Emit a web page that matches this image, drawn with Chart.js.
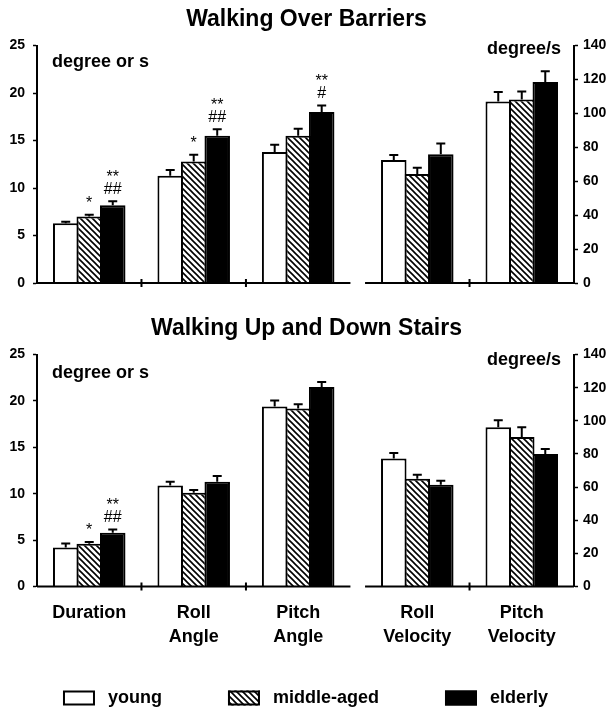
<!DOCTYPE html>
<html>
<head>
<meta charset="utf-8">
<script src="https://cdn.jsdelivr.net/npm/chart.js@4/dist/chart.umd.min.js"></script>
<style>
  html, body { margin: 0; padding: 0; background: #fff; overflow: hidden; }
  .panel { position: absolute; left: 0; width: 613px; }
</style>
</head>
<body>
<div class="panel" style="top:0;height:305px"><canvas id="barriers"></canvas></div>
<div class="panel" style="top:305px;height:406px"><canvas id="stairs"></canvas></div>
<script>
const groups = ["Duration", ["Roll", "Angle"], ["Pitch", "Angle"], ["Roll", "Velocity"], ["Pitch", "Velocity"]];
const groupPos = [1, 2, 3, 4.14, 5.14];
const groupTicks = [1.5, 2.5, 4.64];
const axisSegments = [[0.5, 3.5], [3.64, 5.64]];
const series = ["young", "middle-aged", "elderly"];

// first three values on the left axis (degree or s), last two on the right (degree/s)
const barriersYoung = [6.3, 11.3, 13.8, 72.5, 107];
const barriersMiddle = [7.0, 12.8, 15.5, 64.3, 108.2];
const barriersElderly = [8.2, 15.5, 18.0, 75.9, 118.6];
const barriersYoungErr = [0.15, 0.6, 0.75, 3, 5.6];
const barriersMiddleErr = [0.2, 0.7, 0.75, 3.7, 4.8];
const barriersElderlyErr = [0.4, 0.7, 0.7, 6.3, 6.3];
const barriersMiddleSig = ["*", "*", "", "", ""];
const barriersElderlySig = [["**", "##"], ["**", "##"], ["**", "#"], "", ""];

const stairsYoung = [4.2, 10.9, 19.4, 77.2, 96.1];
const stairsMiddle = [4.6, 10.1, 19.2, 65.1, 90.2];
const stairsElderly = [5.8, 11.3, 21.5, 61.4, 80];
const stairsYoungErr = [0.43, 0.4, 0.65, 3.4, 4.2];
const stairsMiddleErr = [0.2, 0.3, 0.45, 2.4, 5.9];
const stairsElderlyErr = [0.35, 0.6, 0.55, 2.5, 3];
const stairsMiddleSig = ["*", "", "", "", ""];
const stairsElderlySig = [["**", "##"], "", "", "", ""];

const FONT = "'Liberation Sans', Arial, sans-serif";
Chart.defaults.font.family = FONT;
Chart.defaults.color = "#000";

function hatch() {
  const c = document.createElement("canvas");
  c.width = 6; c.height = 6;
  const g = c.getContext("2d");
  g.fillStyle = "#fff"; g.fillRect(0, 0, 6, 6);
  g.strokeStyle = "#000"; g.lineWidth = 1.6;
  g.beginPath();
  g.moveTo(-1, -1); g.lineTo(7, 7);
  g.moveTo(-1, 5); g.lineTo(1, 7);
  g.moveTo(5, -1); g.lineTo(7, 1);
  g.stroke();
  return g.createPattern(c, "repeat");
}
const fills = ["#fff", hatch(), "#000"];

function buildDatasets(means, errs, sigs) {
  const out = [];
  ["yL", "yR"].forEach((axis, side) => {
    series.forEach((name, s) => {
      out.push({
        label: name,
        yAxisID: axis,
        data: groupPos.map((x, i) => ({ x, y: (i < 3) === (side === 0) ? means[s][i] : null })),
        errors: errs[s],
        marks: sigs[s],
        backgroundColor: fills[s],
        borderColor: "#000",
        borderWidth: 2,
        skipNull: true,
        categoryPercentage: 0.675,
        barPercentage: 1.085,
      });
    });
  });
  return out;
}

const decor = {
  id: "decor",
  afterDatasetsDraw(chart) {
    const ctx = chart.ctx;
    ctx.save();
    ctx.strokeStyle = "#000";
    ctx.fillStyle = "#000";
    ctx.lineWidth = 2;
    ctx.font = "16px " + FONT;
    ctx.textAlign = "center";
    ctx.textBaseline = "alphabetic";
    chart.data.datasets.forEach((ds, di) => {
      const meta = chart.getDatasetMeta(di);
      const yScale = chart.scales[ds.yAxisID];
      meta.data.forEach((bar, i) => {
        const v = ds.data[i].y;
        if (v == null) return;
        const top = yScale.getPixelForValue(v + ds.errors[i]);
        ctx.beginPath();
        ctx.moveTo(bar.x, bar.y);
        ctx.lineTo(bar.x, top);
        ctx.moveTo(bar.x - 4.5, top);
        ctx.lineTo(bar.x + 4.5, top);
        ctx.stroke();
        const lines = [].concat(ds.marks[i] || []).filter(Boolean);
        lines.slice().reverse().forEach((t, k) => {
          ctx.fillText(t, bar.x, top - 7 - k * 12);
        });
      });
    });
    ctx.restore();
  },
  afterDraw(chart, args, opts) {
    const ctx = chart.ctx;
    const x = chart.scales.x;
    const y0 = chart.scales.yL.getPixelForValue(0);
    const area = chart.chartArea;
    ctx.save();
    ctx.strokeStyle = "#000";
    ctx.lineWidth = 2;
    ctx.beginPath();
    axisSegments.forEach(([a, b]) => {
      ctx.moveTo(x.getPixelForValue(a), y0);
      ctx.lineTo(x.getPixelForValue(b), y0);
    });
    groupTicks.forEach((t) => {
      const px = x.getPixelForValue(t);
      ctx.moveTo(px, y0 - 4);
      ctx.lineTo(px, y0 + 4);
    });
    ctx.stroke();
    ctx.fillStyle = "#000";
    ctx.font = "bold 18px " + FONT;
    ctx.textBaseline = "middle";
    ctx.textAlign = "left";
    ctx.fillText("degree or s", area.left + 15, area.top + opts.unitDy + 14);
    ctx.textAlign = "right";
    ctx.fillText("degree/s", area.right - 13, area.top + opts.unitDy + 1);

    if (opts.legend) {
      // legend: box, label, gap — centred under the plot
      ctx.textAlign = "left";
      const boxW = 32, boxH = 15, textGap = 13, itemGap = 66;
      const items = series.map((name, s) => ({ name, fill: chart.data.datasets[s].backgroundColor, w: ctx.measureText(name).width }));
      const total = items.reduce((a, it) => a + boxW + textGap + it.w, 0) + itemGap * (items.length - 1);
      let lx = (area.left + area.right) / 2 - total / 2;
      const ly = chart.height - 13;
      ctx.lineWidth = 2;
      items.forEach((it) => {
        ctx.fillStyle = it.fill;
        ctx.fillRect(lx, ly - boxH / 2, boxW, boxH);
        ctx.strokeRect(lx + 1, ly - boxH / 2 + 1, boxW - 2, boxH - 2);
        ctx.fillStyle = "#000";
        ctx.fillText(it.name, lx + boxW + textGap, ly);
        lx += boxW + textGap + it.w + itemGap;
      });
    }
    ctx.restore();
  },
};

function makePanel(id, title, means, errs, sigs, bottom) {
  const axisFont = { size: 14, weight: "bold" };
  const yGrid = { drawOnChartArea: false, tickLength: 4, tickColor: "#000", tickWidth: 1.5 };
  return new Chart(document.getElementById(id), {
    type: "bar",
    data: { datasets: buildDatasets(means, errs, sigs) },
    options: {
      responsive: true,
      maintainAspectRatio: false,
      animation: false,
      layout: { padding: 0 },
      plugins: {
        title: {
          display: true,
          text: title,
          color: "#000",
          font: { size: 23, weight: "bold" },
          padding: bottom ? { top: 10, bottom: 12 } : { top: 6, bottom: 12 },
        },
        legend: { display: false },
        tooltip: { enabled: false },
        decor: { legend: bottom, unitDy: bottom ? 4 : 2 },
      },
      scales: {
        x: {
          type: "linear",
          offset: false,
          min: 0.5,
          max: 5.64,
          afterBuildTicks: (s) => { s.ticks = groupPos.map((v) => ({ value: v })); },
          afterFit: (s) => { s.height = bottom ? 124.5 : 22; },
          ticks: {
            display: bottom,
            autoSkip: false,
            maxRotation: 0,
            padding: 14,
            color: "#000",
            font: { size: 18, weight: "bold", lineHeight: 1.35 },
            callback: (v, i) => groups[i],
          },
          grid: { display: false, drawTicks: false },
          border: { display: false },
        },
        yL: {
          position: "left",
          min: 0,
          max: 25,
          afterFit: (s) => { s.width = 37; },
          ticks: { stepSize: 5, padding: 8, color: "#000", font: axisFont },
          grid: yGrid,
          border: { color: "#000", width: 2 },
        },
        yR: {
          position: "right",
          min: 0,
          max: 140,
          afterFit: (s) => { s.width = 39; },
          ticks: { stepSize: 20, padding: 5, color: "#000", font: axisFont },
          grid: yGrid,
          border: { color: "#000", width: 2 },
        },
      },
    },
    plugins: [decor],
  });
}

makePanel("barriers", "Walking Over Barriers",
  [barriersYoung, barriersMiddle, barriersElderly],
  [barriersYoungErr, barriersMiddleErr, barriersElderlyErr],
  [[], barriersMiddleSig, barriersElderlySig], false);

makePanel("stairs", "Walking Up and Down Stairs",
  [stairsYoung, stairsMiddle, stairsElderly],
  [stairsYoungErr, stairsMiddleErr, stairsElderlyErr],
  [[], stairsMiddleSig, stairsElderlySig], true);
</script>
</body>
</html>
